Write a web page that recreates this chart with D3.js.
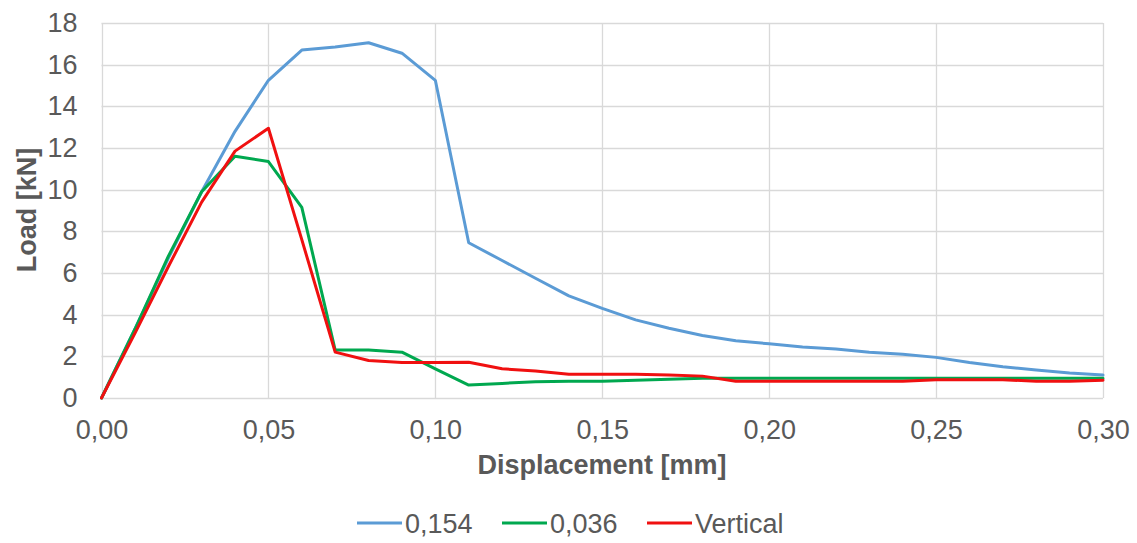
<!DOCTYPE html>
<html>
<head>
<meta charset="utf-8">
<script src="https://cdn.jsdelivr.net/npm/d3@7"></script>
<style>
  html, body { margin: 0; padding: 0; background: #fff; }
  svg { display: block; font-family: "Liberation Sans", Arial, sans-serif; }
</style>
</head>
<body>
<svg id="chart" width="1137" height="543"></svg>
<script>
// Displacement steps (mm)
const displacement = [0.00, 0.01, 0.02, 0.03, 0.04, 0.05, 0.06, 0.07, 0.08, 0.09, 0.10,
  0.11, 0.12, 0.13, 0.14, 0.15, 0.16, 0.17, 0.18, 0.19, 0.20,
  0.21, 0.22, 0.23, 0.24, 0.25, 0.26, 0.27, 0.28, 0.29, 0.30];

// Load (kN) for each series
const load0154 = [0, 3.3, 6.7, 9.9, 12.8, 15.25, 16.7, 16.85, 17.05, 16.55, 15.25,
  7.45, 6.6, 5.75, 4.9, 4.3, 3.75, 3.35, 3.0, 2.75, 2.6,
  2.45, 2.35, 2.2, 2.1, 1.95, 1.7, 1.5, 1.34, 1.2, 1.1];
const load0036 = [0, 3.3, 6.8, 9.9, 11.6, 11.35, 9.15, 2.3, 2.3, 2.2, 1.4,
  0.62, 0.7, 0.78, 0.8, 0.8, 0.85, 0.9, 0.95, 0.95, 0.95,
  0.95, 0.95, 0.95, 0.95, 0.95, 0.95, 0.95, 0.95, 0.95, 0.95];
const loadVertical = [0, 3.1, 6.3, 9.4, 11.85, 12.95, 7.6, 2.2, 1.8, 1.7, 1.7,
  1.72, 1.4, 1.3, 1.14, 1.14, 1.14, 1.1, 1.05, 0.8, 0.8,
  0.8, 0.8, 0.8, 0.8, 0.88, 0.88, 0.88, 0.8, 0.8, 0.85];

const seriesNames = ["0,154", "0,036", "Vertical"];
const seriesColors = ["#5b9bd5", "#00a84f", "#f01010"];
const seriesValues = [load0154, load0036, loadVertical];

const xTicks = [0, 0.05, 0.10, 0.15, 0.20, 0.25, 0.30];
const yTicks = [0, 2, 4, 6, 8, 10, 12, 14, 16, 18];

const svg = d3.select("#chart");
const textColor = "#595959";
const gridColor = "#d9d9d9";
const fontSize = 27;

const x = d3.scaleLinear().domain([0, 0.30]).range([101.5, 1103]);
const y = d3.scaleLinear().domain([0, 18]).range([398, 23]);

const fmt = d => d3.format(".2f")(d).replace(".", ",");

// Gridlines
const grid = svg.append("g");
grid.selectAll("line.h").data(yTicks).join("line")
  .attr("x1", x(0)).attr("x2", x(0.30))
  .attr("y1", d => Math.round(y(d)) + 0.5).attr("y2", d => Math.round(y(d)) + 0.5)
  .attr("stroke", gridColor).attr("stroke-width", 1.3);
grid.selectAll("line.v").data(xTicks).join("line")
  .attr("y1", y(0)).attr("y2", y(18))
  .attr("x1", d => Math.round(x(d)) + 0.5).attr("x2", d => Math.round(x(d)) + 0.5)
  .attr("stroke", gridColor).attr("stroke-width", 1.3);

// Axes (labels only, lines come from the grid)
const xAxis = svg.append("g")
  .attr("transform", `translate(0,${y(0)})`)
  .call(d3.axisBottom(x).tickValues(xTicks).tickFormat(fmt).tickSize(0).tickPadding(22));
xAxis.select(".domain").remove();
xAxis.selectAll("text").attr("fill", textColor).attr("font-size", fontSize)
  .attr("font-family", "Liberation Sans, Arial, sans-serif");

const yAxis = svg.append("g")
  .attr("transform", `translate(${x(0)},0)`)
  .call(d3.axisLeft(y).tickValues(yTicks).tickFormat(d3.format("d")).tickSize(0).tickPadding(24));
yAxis.select(".domain").remove();
yAxis.selectAll("text").attr("fill", textColor).attr("font-size", fontSize)
  .attr("font-family", "Liberation Sans, Arial, sans-serif");

// Series lines
const line = d3.line()
  .x((d, i) => x(displacement[i]))
  .y(d => y(d));

svg.append("g").selectAll("path").data(seriesValues).join("path")
  .attr("d", d => line(d))
  .attr("fill", "none")
  .attr("stroke", (d, i) => seriesColors[i])
  .attr("stroke-width", 3)
  .attr("stroke-linejoin", "round")
  .attr("stroke-linecap", "round");

// Axis titles
svg.append("text")
  .attr("x", 602).attr("y", 474)
  .attr("text-anchor", "middle")
  .attr("font-size", fontSize).attr("font-weight", "bold")
  .attr("fill", textColor)
  .text("Displacement [mm]");

svg.append("text")
  .attr("transform", "translate(36,210) rotate(-90)")
  .attr("text-anchor", "middle")
  .attr("font-size", fontSize).attr("font-weight", "bold")
  .attr("fill", textColor)
  .text("Load [kN]");

// Legend
const legendX = [357, 502, 647];
const legend = svg.append("g");
const items = legend.selectAll("g").data(seriesNames).join("g")
  .attr("transform", (d, i) => `translate(${legendX[i]},523)`);
items.append("line")
  .attr("x1", 0).attr("x2", 45).attr("y1", 0).attr("y2", 0)
  .attr("stroke", (d, i) => seriesColors[i]).attr("stroke-width", 3);
items.append("text")
  .attr("x", 48).attr("y", 10)
  .attr("font-size", fontSize).attr("fill", textColor)
  .text(d => d);
</script>
</body>
</html>
